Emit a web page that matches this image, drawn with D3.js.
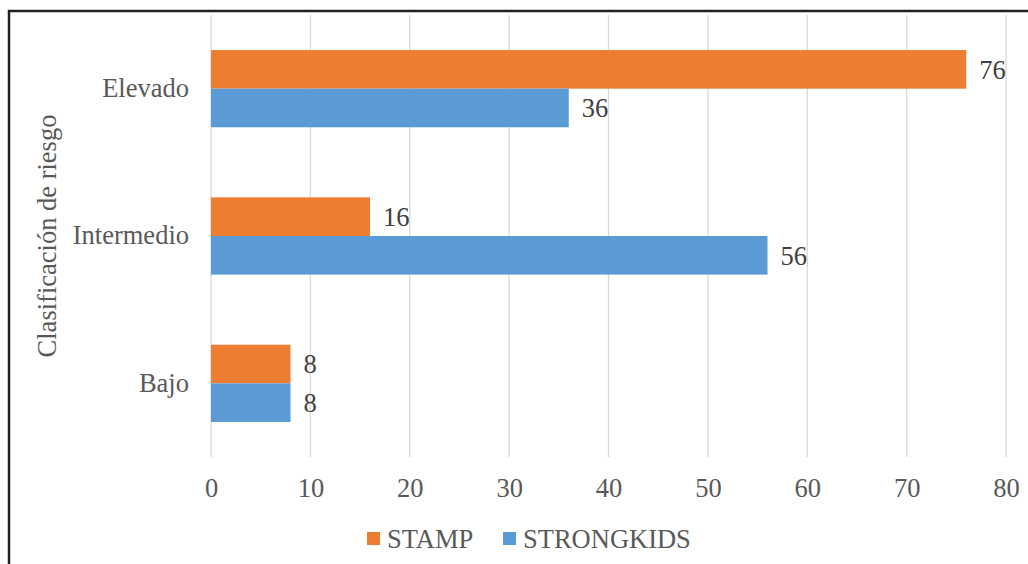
<!DOCTYPE html>
<html>
<head>
<meta charset="utf-8">
<script src="https://cdn.jsdelivr.net/npm/d3@7"></script>
<style>
    body { margin: 0; background: #fff; }
    svg text { font-family: "Liberation Serif", "Times New Roman", Times, serif !important; }
</style>
</head>
<body>
<div id="chart"></div>
<script>
var categories = ["Elevado", "Intermedio", "Bajo"];
var series = ["STAMP", "STRONGKIDS"];
var stampValues = [76, 16, 8];
var strongkidsValues = [36, 56, 8];
var xTicks = [0, 10, 20, 30, 40, 50, 60, 70, 80];
var colors = ["#ED7D31", "#5B9BD5"];

var W = 1028, H = 564;
var margin = { top: 15, right: 22, bottom: 107, left: 211 };
var width = W - margin.left - margin.right;
var height = H - margin.top - margin.bottom;
var fontSize = "26.5px";

var svg = d3.select("#chart").append("svg")
    .attr("width", W)
    .attr("height", H);

// outer frame
svg.append("rect")
    .attr("x", 9).attr("y", 11)
    .attr("width", W + 20).attr("height", H + 20)
    .attr("fill", "none")
    .attr("stroke", "#222")
    .attr("stroke-width", 2.5);

var g = svg.append("g")
    .attr("transform", "translate(" + margin.left + "," + margin.top + ")");

var x = d3.scaleLinear().domain([0, 80]).range([0, width]);
var y = d3.scaleBand().domain(categories).range([0, height]).paddingInner(0.476).paddingOuter(0.238);
var ySub = d3.scaleBand().domain(series).range([0, y.bandwidth()]);

// gridlines
g.selectAll(".grid")
    .data(xTicks)
    .enter().append("line")
    .attr("x1", function (d) { return x(d); })
    .attr("x2", function (d) { return x(d); })
    .attr("y1", 0)
    .attr("y2", height)
    .attr("stroke", "#D9D9D9")
    .attr("stroke-width", 1.3);

var rows = [];
categories.forEach(function (c, i) {
    rows.push({ cat: c, s: "STAMP", v: stampValues[i], color: colors[0] });
    rows.push({ cat: c, s: "STRONGKIDS", v: strongkidsValues[i], color: colors[1] });
});

g.selectAll(".bar")
    .data(rows)
    .enter().append("rect")
    .attr("x", x(0))
    .attr("y", function (d) { return y(d.cat) + ySub(d.s); })
    .attr("width", function (d) { return x(d.v) - x(0); })
    .attr("height", ySub.bandwidth())
    .attr("fill", function (d) { return d.color; });

g.selectAll(".val")
    .data(rows)
    .enter().append("text")
    .attr("x", function (d) { return x(d.v) + 13; })
    .attr("y", function (d) { return y(d.cat) + ySub(d.s) + ySub.bandwidth() / 2; })
    .attr("dy", "0.35em")
    .style("font-size", fontSize)
    .attr("fill", "#404040")
    .text(function (d) { return d.v; });

// x axis labels
var xAxis = g.append("g")
    .attr("transform", "translate(0," + height + ")")
    .call(d3.axisBottom(x).tickValues(xTicks).tickSize(0).tickPadding(21));
xAxis.select(".domain").remove();
xAxis.selectAll("text")
    .style("font-size", fontSize)
    .attr("fill", "#595959");

// y axis labels
var yAxis = g.append("g")
    .call(d3.axisLeft(y).tickSize(0).tickPadding(22));
yAxis.select(".domain").remove();
yAxis.selectAll("text")
    .style("font-size", fontSize)
    .attr("fill", "#595959");

// y axis title
svg.append("text")
    .attr("transform", "translate(56," + (margin.top + height / 2) + ") rotate(-90)")
    .attr("text-anchor", "middle")
    .style("font-size", fontSize)
    .attr("fill", "#595959")
    .text("Clasificación de riesgo");

// legend
var legendX = [367, 503];
var legend = svg.selectAll(".legend")
    .data(series)
    .enter().append("g")
    .attr("transform", function (d, i) { return "translate(" + legendX[i] + ",532)"; });
legend.append("rect")
    .attr("width", 13).attr("height", 13)
    .attr("fill", function (d, i) { return colors[i]; });
legend.append("text")
    .attr("x", 20)
    .attr("y", 7)
    .attr("dy", "0.35em")
    .style("font-size", fontSize)
    .attr("fill", "#595959")
    .text(function (d) { return d; });
</script>
</body>
</html>
